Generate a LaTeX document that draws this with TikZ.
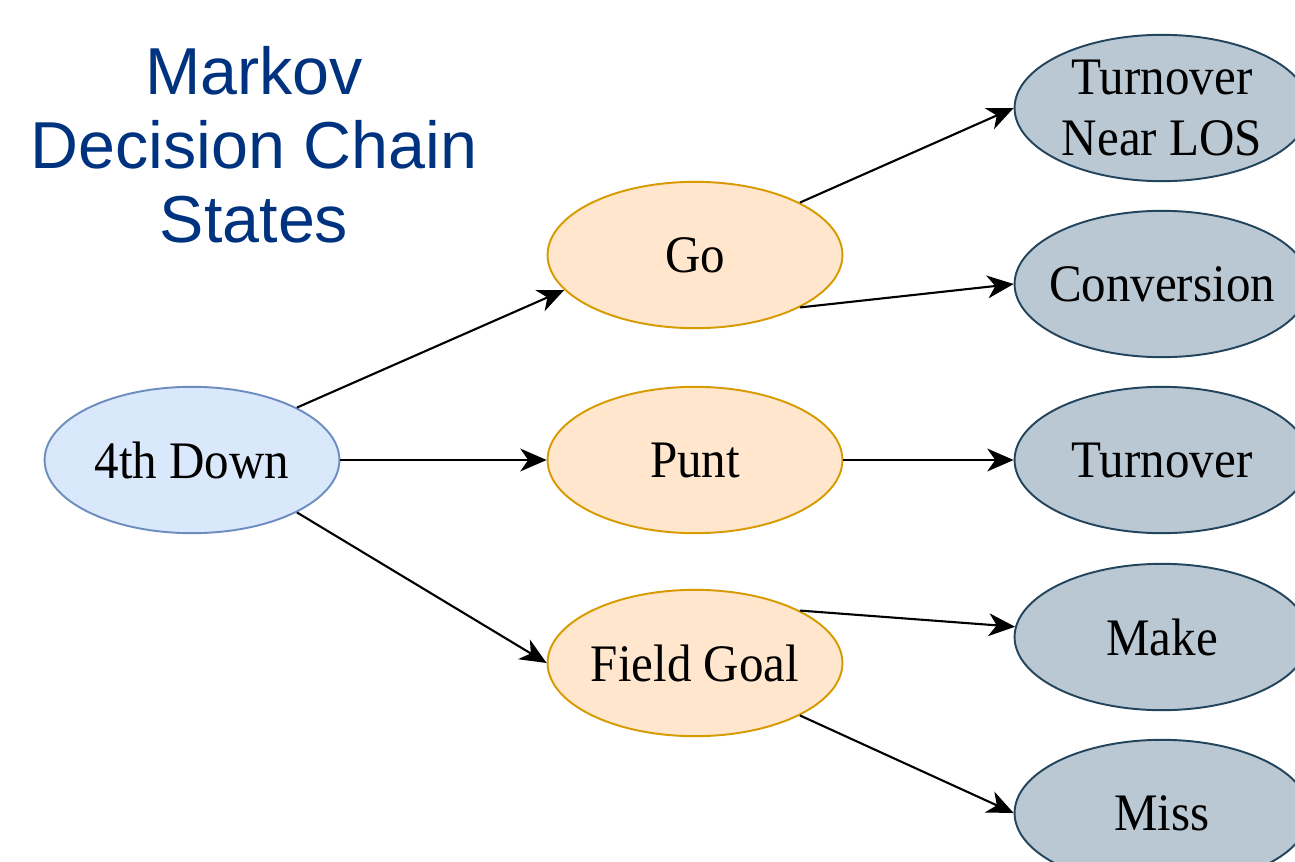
\documentclass[tikz,border=0pt]{standalone}
\usepackage{fontspec}
\setmainfont{Liberation Serif}
\newfontfamily\titlefont{Liberation Sans}
\newfontfamily\nodefont[FakeStretch=0.93]{Liberation Serif}
\usetikzlibrary{shapes.geometric,arrows.meta}
\definecolor{startfill}{HTML}{DAE8FC}
\definecolor{startdraw}{HTML}{6C8EBF}
\definecolor{actfill}{HTML}{FFE6CC}
\definecolor{actdraw}{HTML}{D79B00}
\definecolor{outfill}{HTML}{BAC8D3}
\definecolor{outdraw}{HTML}{23445D}
\definecolor{titleblue}{HTML}{00337F}
\tikzset{
  state/.style={ellipse, minimum width=167.8pt, minimum height=83.3pt,
    inner xsep=-10pt, inner ysep=0pt,
    line width=1.1pt, align=center,
    font=\nodefont\fontsize{30pt}{34.6pt}\selectfont},
  startstate/.style={state, fill=startfill, draw=startdraw},
  actstate/.style={state, fill=actfill, draw=actdraw},
  outstate/.style={state, fill=outfill, draw=outdraw},
  conn/.style={line width=1.2pt, -{Stealth[length=15pt,width=13pt,inset=4.5pt]}},
}
\begin{document}
\begin{tikzpicture}[x=0.02cm,y=-0.02cm]
\useasboundingbox (0,0) rectangle (1295,862);
\clip (0,0) rectangle (1295,862);
\fill[white] (0,0) rectangle (1295,862);

\node[anchor=north, inner sep=0pt, align=center, text=titleblue,
  font=\titlefont\fontsize{37.8pt}{42.2pt}\selectfont] (title) at (254,46)
  {Markov\\Decision Chain\\States};

\node[startstate] (down) at (192,460) {4th Down};
\node[actstate] (go) at (695,255) {Go};
\node[actstate] (punt) at (695,460) {Punt};
\node[actstate] (fg) at (695,663) {Field Goal};
\node[outstate] (tnl) at (1162,108) {Turnover\\Near LOS};
\node[outstate] (conv) at (1162,284) {Conversion};
\node[outstate] (to) at (1162,460) {Turnover};
\node[outstate] (make) at (1162,637) {Make};
\node[outstate] (miss) at (1162,813) {Miss};

\draw[conn] (down.north east) -- (go.195);
\draw[conn] (down.east) -- (punt.west);
\draw[conn] (down.south east) -- (fg.west);
\draw[conn] (go.north east) -- (tnl.west);
\draw[conn] (go.south east) -- (conv.west);
\draw[conn] (punt.east) -- (to.west);
\draw[conn] (fg.north east) -- (make.176);
\draw[conn] (fg.south east) -- (miss.west);
\end{tikzpicture}
\end{document}
